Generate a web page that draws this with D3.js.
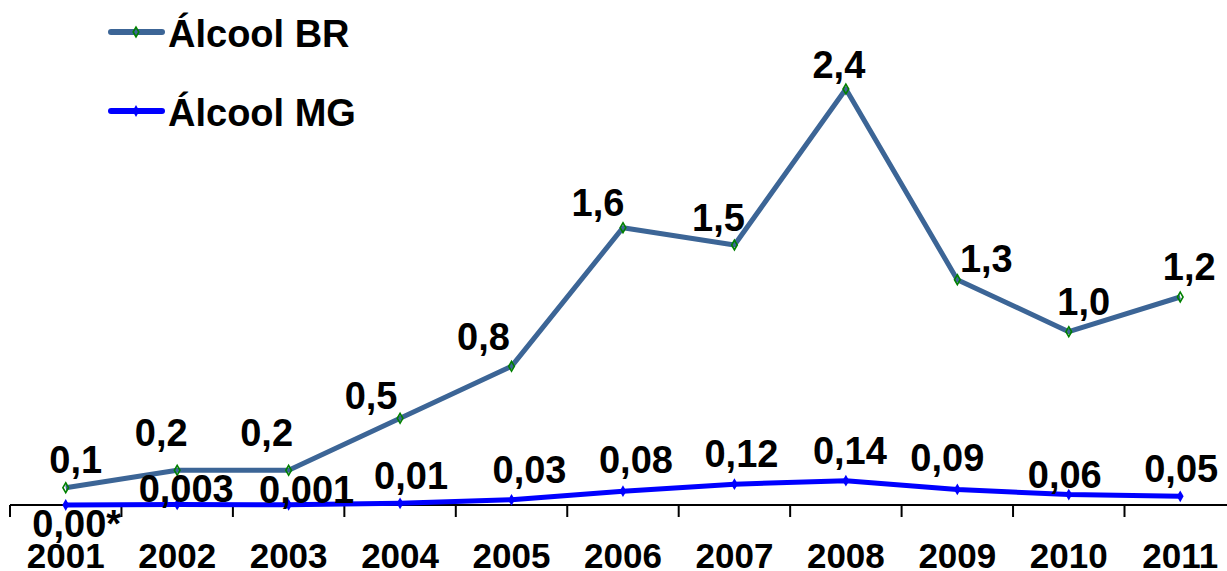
<!DOCTYPE html>
<html>
<head>
<meta charset="utf-8">
<script src="https://cdn.jsdelivr.net/npm/d3@7"></script>
<style>
  html, body { margin: 0; padding: 0; background: #ffffff; }
  svg { display: block; }
  text { font-family: "Liberation Sans", Arial, sans-serif; font-weight: bold; fill: #000; }
</style>
</head>
<body>
<svg id="chart" width="1227" height="571"></svg>
<script>
// Years on the horizontal axis
const years = ["2001", "2002", "2003", "2004", "2005", "2006", "2007", "2008", "2009", "2010", "2011"];

// Series values
const alcoolBR = [0.1, 0.2, 0.2, 0.5, 0.8, 1.6, 1.5, 2.4, 1.3, 1.0, 1.2];
const alcoolMG = [0.00, 0.003, 0.001, 0.01, 0.03, 0.08, 0.12, 0.14, 0.09, 0.06, 0.05];

// Value labels as printed
const labelsBR = ["0,1", "0,2", "0,2", "0,5", "0,8", "1,6", "1,5", "2,4", "1,3", "1,0", "1,2"];
const labelsMG = ["0,00*", "0,003", "0,001", "0,01", "0,03", "0,08", "0,12", "0,14", "0,09", "0,06", "0,05"];

// Label placement nudges: [dx, rise above point to baseline]
const nudgeBR = [[10, 15], [-16, 24], [-22, 24], [-29, 9], [-28, 16], [-25, 12], [-16, 14], [-7, 11], [29, 8], [15, 17], [9, 17]];
const nudgeMG = [[11, -32], [9, 2], [18, 2], [11, 14], [18, 17], [13, 18], [7, 17], [4, 17], [-10, 18], [-4, 7], [1, 14]];

const colorBR = "#3c6596";
const colorMG = "#0000ff";
const markerBR = "#008000";

const svg = d3.select("#chart");

const step = 111.45;
const x = d3.scaleBand().domain(years).range([10, 10 + step * years.length]).padding(0);
const y = d3.scaleLinear().domain([0, 2.4]).range([505, 89]);
const cx = d => x(d) + x.bandwidth() / 2;

// Category axis with boundary ticks
const axisY = y(0);
svg.append("line")
  .attr("x1", x.range()[0]).attr("x2", x.range()[1])
  .attr("y1", axisY).attr("y2", axisY)
  .attr("stroke", "#000").attr("stroke-width", 2);

const boundaries = years.map(d => x(d)).concat([x.range()[1]]);
svg.append("g").selectAll("line").data(boundaries).join("line")
  .attr("x1", d => d).attr("x2", d => d)
  .attr("y1", axisY).attr("y2", axisY + 12)
  .attr("stroke", "#000").attr("stroke-width", 2);

svg.append("g").selectAll("text").data(years).join("text")
  .attr("x", d => cx(d)).attr("y", 568)
  .attr("text-anchor", "middle")
  .attr("font-size", 35)
  .text(d => d);

// Lines
const line = d3.line().x((d, i) => cx(years[i])).y(d => y(d));

svg.append("path").datum(alcoolMG)
  .attr("d", line).attr("fill", "none")
  .attr("stroke", colorMG).attr("stroke-width", 5)
  .attr("stroke-linejoin", "round");

svg.append("path").datum(alcoolBR)
  .attr("d", line).attr("fill", "none")
  .attr("stroke", colorBR).attr("stroke-width", 5)
  .attr("stroke-linejoin", "round");

// Markers
const diamondSmall = d3.symbol().type(d3.symbolDiamond).size(28);
const diamondMG = d3.symbol().type(d3.symbolDiamond).size(40);

svg.append("g").selectAll("path").data(alcoolMG).join("path")
  .attr("d", diamondMG)
  .attr("transform", (d, i) => `translate(${cx(years[i])},${y(d)})`)
  .attr("fill", colorMG);

svg.append("g").selectAll("path").data(alcoolBR).join("path")
  .attr("d", diamondSmall)
  .attr("transform", (d, i) => `translate(${cx(years[i])},${y(d)})`)
  .attr("fill", "none").attr("stroke", markerBR).attr("stroke-width", 1.6);

// Value labels
svg.append("g").selectAll("text").data(alcoolBR).join("text")
  .attr("x", (d, i) => cx(years[i]) + nudgeBR[i][0])
  .attr("y", (d, i) => y(d) - nudgeBR[i][1])
  .attr("text-anchor", "middle")
  .attr("font-size", 38)
  .text((d, i) => labelsBR[i]);

svg.append("g").selectAll("text").data(alcoolMG).join("text")
  .attr("x", (d, i) => cx(years[i]) + nudgeMG[i][0])
  .attr("y", (d, i) => y(d) - nudgeMG[i][1])
  .attr("text-anchor", "middle")
  .attr("font-size", 38)
  .text((d, i) => labelsMG[i]);

// Legend
const legend = [
  { name: "Álcool BR", color: colorBR, y: 32, marker: true },
  { name: "Álcool MG", color: colorMG, y: 111, marker: false }
];
const lg = svg.append("g").selectAll("g").data(legend).join("g");
lg.append("line")
  .attr("x1", 111).attr("x2", 162)
  .attr("y1", d => d.y).attr("y2", d => d.y)
  .attr("stroke", d => d.color).attr("stroke-width", 6)
  .attr("stroke-linecap", "round");
lg.filter(d => d.marker).append("path")
  .attr("d", diamondSmall)
  .attr("transform", d => `translate(136,${d.y})`)
  .attr("fill", "none").attr("stroke", markerBR).attr("stroke-width", 1.6);
lg.filter(d => !d.marker).append("path")
  .attr("d", diamondMG)
  .attr("transform", d => `translate(136,${d.y})`)
  .attr("fill", colorMG);
lg.append("text")
  .attr("x", 168).attr("y", d => d.y + 15)
  .attr("font-size", 38)
  .text(d => d.name);
</script>
</body>
</html>
